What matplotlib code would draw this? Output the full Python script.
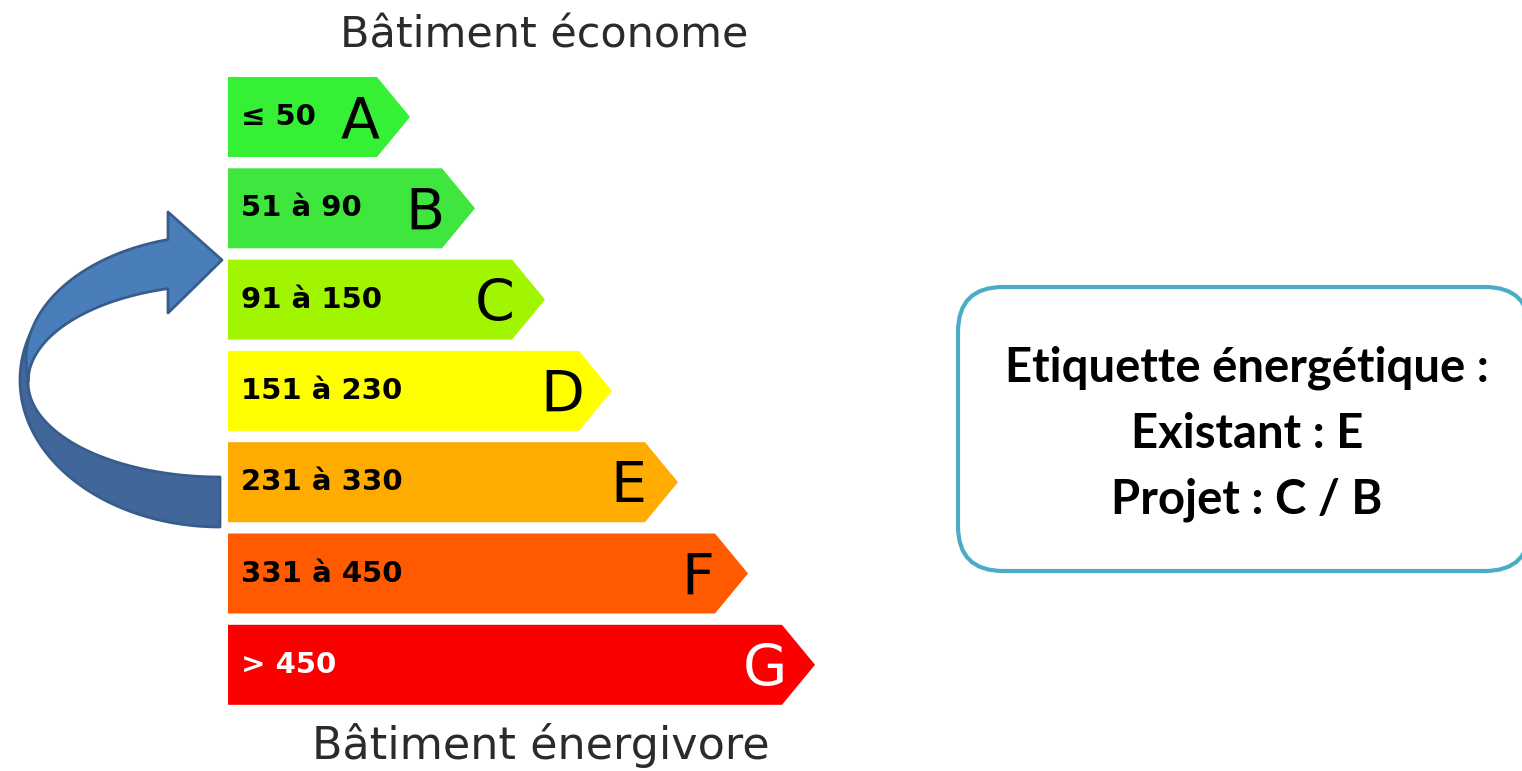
import matplotlib.pyplot as plt
import numpy as np
from matplotlib.patches import Polygon, FancyBboxPatch

# energy label classes (top = best)
classes = ["A", "B", "C", "D", "E", "F", "G"]
ranges = ["≤ 50", "51 à 90", "91 à 150", "151 à 230", "231 à 330", "331 à 450", "> 450"]
bar_colors = ["#35f035", "#3ee63e", "#a2f500", "#ffff00", "#ffab00", "#ff5a00", "#fa0000"]
text_colors = ["black", "black", "black", "black", "black", "black", "white"]
bar_len = [182, 247, 317, 384, 450, 520, 587]

top_title = "Bâtiment économe"
bottom_title = "Bâtiment énergivore"
box_lines = ["Etiquette énergétique :", "Existant : E", "Projet : C / B"]

W, H = 1522, 771
fig = plt.figure(figsize=(W / 100, H / 100), dpi=100)
ax = fig.add_axes([0, 0, 1, 1])
ax.set_xlim(0, W)
ax.set_ylim(H, 0)
ax.axis("off")

# bars
x0 = 228
bar_h = 80
pitch = 91.3
for i in range(len(classes)):
    y0 = 77 + i * pitch
    tip = x0 + bar_len[i]
    neck = tip - 33
    pts = [(x0, y0), (neck, y0), (tip, y0 + bar_h / 2), (neck, y0 + bar_h), (x0, y0 + bar_h)]
    ax.add_patch(Polygon(pts, closed=True, facecolor=bar_colors[i], edgecolor="none"))
    ax.text(x0 + 13, y0 + 48, ranges[i], fontsize=21, fontweight="bold",
            family="DejaVu Sans", color=text_colors[i], va="baseline", ha="left")
    ax.text(tip - 50, y0 + 61, classes[i], fontsize=41, family="DejaVu Sans",
            color=text_colors[i], va="baseline", ha="center")

ax.text(544, 47, top_title, fontsize=31, color="#2b2b2b", ha="center", va="baseline",
        family="DejaVu Sans")
ax.text(541, 759, bottom_title, fontsize=32, color="#2b2b2b", ha="center", va="baseline",
        family="DejaVu Sans")

# curved arrow (E -> C/B)
def arc(cx, cy, rx, ry, t0, t1, n=80):
    t = np.linspace(t0, t1, n)
    return np.column_stack([cx + rx * np.cos(t), cy - ry * np.sin(t)])

edge = "#375d8c"
# back (darker) band
outer_low = arc(220, 380, 200, 147, np.pi - 0.35, 1.5 * np.pi)
inner_low = arc(220, 382, 192, 95, 1.5 * np.pi, np.pi)
low = np.vstack([outer_low, [[220, 477]], inner_low])
ax.add_patch(Polygon(low, closed=True, facecolor="#41679a", edgecolor=edge, lw=2, joinstyle="round"))

# front band with head
t0 = np.arccos(-52 / 194)
t1 = np.arccos(-52 / 192)
outer_up = arc(220, 360, 194, 125, t0, np.pi)
inner_up = arc(220, 382, 192, 97, np.pi, t1)
head = [[168, 313], [222, 260], [168, 212]]
up = np.vstack([outer_up, [[28, 382]], inner_up, head])
ax.add_patch(Polygon(up, closed=True, facecolor="#4a7ebb", edgecolor=edge, lw=2, joinstyle="round"))

# text box
box = FancyBboxPatch((958, 287), 572, 284, boxstyle="round,pad=0,rounding_size=45",
                     facecolor="white", edgecolor="#4bacc6", lw=3)
ax.add_patch(box)
for k, line in enumerate(box_lines):
    ax.text(1247, 382 + k * 65.5, line, fontsize=34, fontweight="bold", family="Lato",
            ha="center", va="baseline", color="black")

fig.savefig("out.png", dpi=100)
